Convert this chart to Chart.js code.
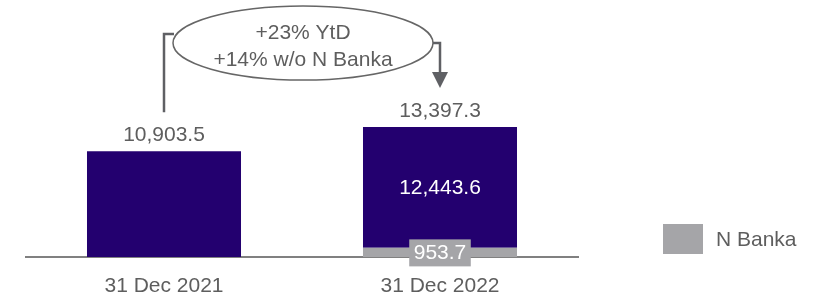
<!DOCTYPE html>
<html>
<head>
<meta charset="utf-8">
<script src="https://cdn.jsdelivr.net/npm/chart.js@4/dist/chart.umd.min.js"></script>
<style>
  html, body { margin: 0; padding: 0; background: #fff; }
  #wrap { width: 815px; height: 300px; position: relative; }
</style>
</head>
<body>
<div id="wrap"><canvas id="chart" width="815" height="300"></canvas></div>
<script>
const categories = ['31 Dec 2021', '31 Dec 2022'];
const nBanka = [null, 953.7];
const coreValues = [10903.5, 12443.6];
const growthText = ['+23% YtD', '+14% w/o N Banka'];

const DARK = '#23006F';
const GREY = '#A5A5A8';
const TEXT = '#5E5E5E';
const FONT = '"Liberation Sans", Arial, sans-serif';
const FSIZE = 21;

function fmt(v) {
    return v.toLocaleString('en-US', { minimumFractionDigits: 1, maximumFractionDigits: 1 });
}

// labels, growth bubble and legend
const overlayPlugin = {
    id: 'overlay',
    afterDatasetsDraw(chart) {
        const ctx = chart.ctx;
        const greyMeta = chart.getDatasetMeta(0);
        const coreMeta = chart.getDatasetMeta(1);
        ctx.save();
        ctx.font = FSIZE + 'px ' + FONT;
        ctx.textAlign = 'center';
        ctx.textBaseline = 'middle';

        const tops = [];
        categories.forEach((c, i) => {
            const bar = coreMeta.data[i];
            const total = (nBanka[i] || 0) + coreValues[i];
            tops.push(bar.y);
            ctx.fillStyle = TEXT;
            ctx.fillText(fmt(total), bar.x, bar.y - 16);

            if (nBanka[i]) {
                // value inside dark part
                ctx.fillStyle = '#ffffff';
                ctx.fillText(fmt(coreValues[i]), bar.x, (bar.y + bar.base) / 2 + 1);
                // grey box label
                const g = greyMeta.data[i];
                const txt = fmt(nBanka[i]);
                const w = ctx.measureText(txt).width + 9;
                const cy = (g.y + g.base) / 2 - 1;
                ctx.fillStyle = GREY;
                ctx.fillRect(g.x - w / 2, cy - 12, w, 27);
                ctx.fillStyle = '#ffffff';
                ctx.fillText(txt, g.x, cy + 2);
            }
        });

        // growth bubble
        const x1 = coreMeta.data[0].x;
        const x2 = coreMeta.data[1].x;
        const cx = (x1 + x2) / 2 + 1;
        const cy = 43;
        const rx = 130, ry = 37;
        ctx.strokeStyle = '#666666';
        ctx.lineWidth = 1.5;
        ctx.beginPath();
        ctx.ellipse(cx, cy, rx, ry, 0, 0, Math.PI * 2);
        ctx.stroke();
        ctx.fillStyle = TEXT;
        ctx.fillText(growthText[0], cx, 33);
        ctx.fillText(growthText[1], cx, 60);

        ctx.strokeStyle = '#5F6064';
        ctx.lineWidth = 2.5;
        ctx.beginPath();
        ctx.moveTo(x1, tops[0] - 39);
        ctx.lineTo(x1, 34);
        ctx.lineTo(cx - rx + 1, 34);
        ctx.moveTo(cx + rx, cy);
        ctx.lineTo(x2, cy);
        ctx.lineTo(x2, 74);
        ctx.stroke();
        ctx.fillStyle = '#5F6064';
        ctx.beginPath();
        ctx.moveTo(x2 - 8, 72);
        ctx.lineTo(x2 + 8, 72);
        ctx.lineTo(x2, 88);
        ctx.closePath();
        ctx.fill();

        // legend
        ctx.fillStyle = GREY;
        ctx.fillRect(663, 224, 40, 30);
        ctx.fillStyle = TEXT;
        ctx.textAlign = 'left';
        ctx.fillText('N Banka', 716, 240);
        ctx.restore();
    }
};

new Chart(document.getElementById('chart').getContext('2d'), {
    type: 'bar',
    data: {
        labels: categories,
        datasets: [
            { label: 'N Banka', data: nBanka, backgroundColor: GREY },
            { label: 'Core', data: coreValues, backgroundColor: DARK }
        ]
    },
    options: {
        responsive: false,
        animation: false,
        events: [],
        layout: { padding: { left: 26, right: 237, top: 0, bottom: 0 } },
        datasets: { bar: { categoryPercentage: 1, barPercentage: 0.558 } },
        plugins: { legend: { display: false }, tooltip: { enabled: false } },
        scales: {
            x: {
                stacked: true,
                grid: { display: false, drawTicks: false },
                border: { color: '#808080', width: 2 },
                ticks: { color: TEXT, font: { family: FONT, size: FSIZE }, padding: 17 },
                afterFit(scale) { scale.height = 43; }
            },
            y: {
                stacked: true,
                display: false,
                min: 0,
                max: 26500
            }
        }
    },
    plugins: [overlayPlugin]
});
</script>
</body>
</html>
